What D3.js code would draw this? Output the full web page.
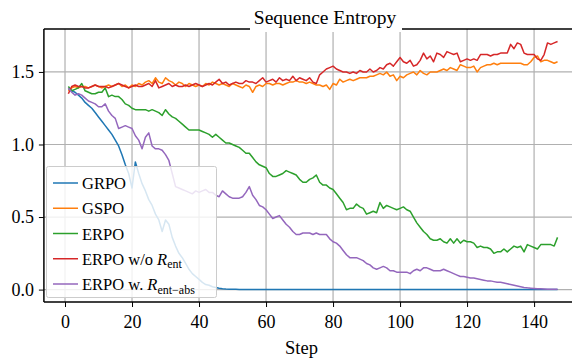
<!DOCTYPE html>
<html>
<head>
<meta charset="utf-8">
<script src="https://cdn.jsdelivr.net/npm/d3@7"></script>
<style>
  body { margin: 0; background: #fff; }
  svg { display: block; font-family: "Liberation Serif", "Times New Roman", serif; }
</style>
</head>
<body>
<svg id="chart" width="572" height="358"></svg>
<script>
// steps 1..147
const steps = d3.range(1, 148);

const grpo = [
  1.38, 1.37, 1.36, 1.34, 1.32, 1.29, 1.27, 1.25, 1.22, 1.19,
  1.16, 1.13, 1.10, 1.07, 1.03, 0.99, 0.93, 0.86, 0.80, 0.70,
  0.88, 0.80, 0.73, 0.68, 0.62, 0.58, 0.52, 0.48, 0.40, 0.48,
  0.45, 0.36, 0.30, 0.25, 0.22, 0.18, 0.14, 0.11, 0.09, 0.07,
  0.05, 0.035, 0.03, 0.02, 0.015, 0.01, 0.006, 0.004, 0.003, 0.002,
  0.002, 0.001, 0.001, 0.001, 0.001, 0.001, 0.001, 0.001, 0.001, 0.001,
  0, 0, 0, 0, 0, 0, 0, 0, 0, 0,
  0, 0, 0, 0, 0, 0, 0, 0, 0, 0,
  0, 0, 0, 0, 0, 0, 0, 0, 0, 0,
  0, 0, 0, 0, 0, 0, 0, 0, 0, 0,
  0, 0, 0, 0, 0, 0, 0, 0, 0, 0,
  0, 0, 0, 0, 0, 0, 0, 0, 0, 0,
  0, 0, 0, 0, 0, 0, 0, 0, 0, 0,
  0, 0, 0, 0, 0, 0, 0, 0, 0, 0,
  0, 0, 0, 0, 0, 0, 0
];

const gspo = [
  1.37, 1.39, 1.40, 1.39, 1.40, 1.40, 1.39, 1.40, 1.41, 1.40,
  1.39, 1.40, 1.41, 1.40, 1.41, 1.42, 1.40, 1.41, 1.39, 1.41,
  1.40, 1.42, 1.41, 1.43, 1.44, 1.42, 1.46, 1.43, 1.42, 1.46,
  1.44, 1.43, 1.41, 1.43, 1.42, 1.40, 1.42, 1.41, 1.40, 1.41,
  1.40, 1.42, 1.41, 1.43, 1.42, 1.41, 1.42, 1.41, 1.40, 1.42,
  1.41, 1.40, 1.39, 1.41, 1.40, 1.36, 1.40, 1.41, 1.40, 1.42,
  1.42, 1.41, 1.42, 1.42, 1.41, 1.42, 1.43, 1.43, 1.44, 1.43,
  1.43, 1.42, 1.43, 1.42, 1.41, 1.41, 1.40, 1.41, 1.38, 1.42,
  1.41, 1.45, 1.43, 1.44, 1.45, 1.44, 1.45, 1.46, 1.46, 1.46,
  1.47, 1.47, 1.48, 1.49, 1.48, 1.50, 1.47, 1.48, 1.44, 1.47,
  1.46, 1.48, 1.49, 1.50, 1.48, 1.51, 1.49, 1.48, 1.50, 1.50,
  1.50, 1.51, 1.52, 1.51, 1.53, 1.52, 1.51, 1.55, 1.54, 1.53,
  1.53, 1.54, 1.50, 1.53, 1.54, 1.55, 1.55, 1.56, 1.55, 1.56,
  1.56, 1.56, 1.56, 1.56, 1.56, 1.56, 1.55, 1.55, 1.57, 1.60,
  1.61, 1.57, 1.58, 1.58, 1.57, 1.56, 1.57
];

const erpo = [
  1.40, 1.37, 1.38, 1.39, 1.42, 1.37, 1.36, 1.35, 1.35, 1.36,
  1.36, 1.39, 1.33, 1.34, 1.33, 1.33, 1.31, 1.28, 1.27, 1.25,
  1.24, 1.24, 1.24, 1.24, 1.23, 1.24, 1.23, 1.22, 1.20, 1.24,
  1.21, 1.19, 1.18, 1.16, 1.14, 1.12, 1.10, 1.10, 1.10, 1.10,
  1.09, 1.08, 1.07, 1.05, 1.07, 1.05, 1.03, 1.01, 1.01, 1.00,
  0.99, 0.98, 0.96, 0.94, 0.94, 0.91, 0.88, 0.86, 0.85, 0.84,
  0.80, 0.78, 0.78, 0.79, 0.80, 0.82, 0.81, 0.80, 0.79, 0.76,
  0.74, 0.74, 0.76, 0.77, 0.79, 0.74, 0.72, 0.72, 0.70, 0.69,
  0.66, 0.63, 0.60, 0.55, 0.56, 0.56, 0.59, 0.57, 0.56, 0.52,
  0.53, 0.54, 0.53, 0.60, 0.56, 0.58, 0.57, 0.56, 0.55, 0.56,
  0.57, 0.55, 0.54, 0.50, 0.46, 0.43, 0.40, 0.38, 0.35, 0.34,
  0.34, 0.35, 0.33, 0.32, 0.35, 0.32, 0.35, 0.32, 0.34, 0.33,
  0.33, 0.32, 0.29, 0.30, 0.29, 0.29, 0.28, 0.25, 0.26, 0.26,
  0.28, 0.26, 0.28, 0.30, 0.29, 0.30, 0.26, 0.31, 0.30, 0.29,
  0.28, 0.31, 0.31, 0.31, 0.31, 0.30, 0.36
];

const erpoNoEnt = [
  1.35, 1.40, 1.41, 1.40, 1.40, 1.39, 1.39, 1.40, 1.41, 1.40,
  1.40, 1.40, 1.39, 1.40, 1.41, 1.42, 1.41, 1.40, 1.39, 1.40,
  1.41, 1.40, 1.40, 1.41, 1.42, 1.40, 1.44, 1.39, 1.40, 1.41,
  1.42, 1.40, 1.41, 1.40, 1.40, 1.41, 1.40, 1.41, 1.42, 1.41,
  1.40, 1.41, 1.42, 1.41, 1.43, 1.45, 1.42, 1.43, 1.41, 1.42,
  1.43, 1.42, 1.42, 1.44, 1.43, 1.43, 1.42, 1.44, 1.46, 1.43,
  1.44, 1.45, 1.43, 1.46, 1.44, 1.45, 1.44, 1.47, 1.44, 1.46,
  1.45, 1.44, 1.46, 1.43, 1.42, 1.48, 1.50, 1.52, 1.53, 1.54,
  1.52, 1.51, 1.50, 1.50, 1.49, 1.50, 1.49, 1.51, 1.50, 1.50,
  1.52, 1.50, 1.51, 1.53, 1.52, 1.55, 1.56, 1.54, 1.57, 1.60,
  1.57, 1.56, 1.58, 1.54, 1.55, 1.58, 1.63, 1.59, 1.61, 1.57,
  1.63, 1.62, 1.60, 1.64, 1.63, 1.62, 1.63, 1.57, 1.58, 1.59,
  1.58, 1.59, 1.58, 1.62, 1.62, 1.62, 1.61, 1.62, 1.62, 1.63,
  1.63, 1.63, 1.69, 1.66, 1.70, 1.69, 1.63, 1.62, 1.62, 1.62,
  1.59, 1.58, 1.62, 1.70, 1.69, 1.70, 1.71
];

const erpoEntAbs = [
  1.39, 1.36, 1.34, 1.35, 1.34, 1.32, 1.30, 1.29, 1.28, 1.26,
  1.26, 1.28, 1.23, 1.20, 1.18, 1.11, 1.12, 1.13, 1.12, 1.11,
  1.06, 1.03, 0.97, 1.05, 1.08, 0.99, 0.97, 0.97, 0.96, 0.93,
  0.89, 0.80, 0.71, 0.70, 0.69, 0.68, 0.67, 0.66, 0.68, 0.67,
  0.68, 0.69, 0.67, 0.67, 0.65, 0.64, 0.68, 0.66, 0.64, 0.63,
  0.63, 0.63, 0.64, 0.67, 0.71, 0.65, 0.62, 0.58, 0.57, 0.55,
  0.52, 0.49, 0.50, 0.51, 0.48, 0.45, 0.43, 0.40, 0.38, 0.38,
  0.39, 0.39, 0.39, 0.38, 0.39, 0.38, 0.38, 0.38, 0.35, 0.33,
  0.32, 0.30, 0.27, 0.24, 0.22, 0.22, 0.22, 0.21, 0.20, 0.18,
  0.17, 0.15, 0.14, 0.15, 0.16, 0.15, 0.13, 0.13, 0.12, 0.12,
  0.12, 0.12, 0.11, 0.13, 0.14, 0.13, 0.15, 0.15, 0.14, 0.13,
  0.13, 0.13, 0.14, 0.13, 0.12, 0.11, 0.10, 0.09, 0.09, 0.085,
  0.08, 0.08, 0.075, 0.07, 0.065, 0.06, 0.06, 0.055, 0.05, 0.05,
  0.045, 0.04, 0.035, 0.03, 0.025, 0.02, 0.015, 0.012, 0.01, 0.008,
  0.006, 0.005, 0.004, 0.003, 0.003, 0.002, 0.002
];

const xTicks = [0, 20, 40, 60, 80, 100, 120, 140];
const yTicks = [0.0, 0.5, 1.0, 1.5];

const series = [
  { name: "GRPO", values: grpo, color: "#1f77b4" },
  { name: "GSPO", values: gspo, color: "#ff7f0e" },
  { name: "ERPO", values: erpo, color: "#2ca02c" },
  { name: "ERPO w/o", sub: "ent", values: erpoNoEnt, color: "#d62728" },
  { name: "ERPO w.", sub: "ent\u2212abs", values: erpoEntAbs, color: "#9467bd" }
];

const W = 572;
const plotL = 43.9, plotT = 29, plotR = 582, plotB = 302;

const svg = d3.select("#chart");

const x = d3.scaleLinear().domain([-6.3, 154.3]).range([plotL, plotR]);
const y = d3.scaleLinear().domain([-0.0855, 1.796]).range([plotB, plotT]);

// grid
svg.append("g").selectAll("line").data(xTicks).enter().append("line")
  .attr("x1", d => x(d)).attr("x2", d => x(d))
  .attr("y1", plotT).attr("y2", plotB)
  .attr("stroke", "#b0b0b0").attr("stroke-width", 1.2);
svg.append("g").selectAll("line").data(yTicks).enter().append("line")
  .attr("x1", plotL).attr("x2", W)
  .attr("y1", d => y(d)).attr("y2", d => y(d))
  .attr("stroke", "#b0b0b0").attr("stroke-width", 1.2);

// lines
const line = d3.line().x((d, i) => x(steps[i])).y(d => y(d));
svg.append("g").selectAll("path").data(series).enter().append("path")
  .attr("d", d => line(d.values))
  .attr("fill", "none")
  .attr("stroke", d => d.color)
  .attr("stroke-width", 1.5)
  .attr("stroke-linejoin", "round");

// axes
const xAxis = svg.append("g").attr("transform", `translate(0,${plotB})`)
  .call(d3.axisBottom(x).tickValues(xTicks).tickFormat(d3.format("d")).tickSize(5).tickPadding(5));
const yAxis = svg.append("g").attr("transform", `translate(${plotL},0)`)
  .call(d3.axisLeft(y).tickValues(yTicks).tickFormat(d3.format(".1f")).tickSize(5).tickPadding(5));
[xAxis, yAxis].forEach(g => {
  g.select(".domain").remove();
  g.selectAll(".tick line").attr("stroke", "#000").attr("stroke-width", 1);
  g.selectAll(".tick text").attr("font-family", "Liberation Serif").attr("font-size", 18).attr("fill", "#000");
});
xAxis.selectAll(".tick text").attr("dy", "0.9em");

// spines
svg.append("line").attr("x1", plotL).attr("x2", plotL).attr("y1", plotT).attr("y2", plotB)
  .attr("stroke", "#000").attr("stroke-width", 1.5);
svg.append("line").attr("x1", plotL).attr("x2", W).attr("y1", plotB).attr("y2", plotB)
  .attr("stroke", "#000").attr("stroke-width", 1.5);
svg.append("line").attr("x1", plotL).attr("x2", W).attr("y1", plotT).attr("y2", plotT)
  .attr("stroke", "#000").attr("stroke-width", 1.5);

// title with white box
svg.append("rect").attr("x", 250).attr("y", 3).attr("width", 152).attr("height", 29).attr("fill", "#fff");
svg.append("text").attr("x", 325).attr("y", 24).attr("text-anchor", "middle")
  .attr("font-size", 19.5).text("Sequence Entropy");

// x label
svg.append("text").attr("x", 301.5).attr("y", 354).attr("text-anchor", "middle")
  .attr("font-size", 18.5).text("Step");

// legend
const leg = svg.append("g");
leg.append("rect").attr("x", 46.5).attr("y", 166.5).attr("width", 170).attr("height", 131)
  .attr("rx", 2).attr("fill", "#fff").attr("fill-opacity", 0.82)
  .attr("stroke", "#cccccc").attr("stroke-width", 1);
const rowY = d3.scalePoint().domain(series.map(d => d.name)).range([183, 284]);
const items = leg.selectAll("g.item").data(series).enter().append("g").attr("class", "item")
  .attr("transform", d => `translate(0,${rowY(d.name)})`);
items.append("line").attr("x1", 53).attr("x2", 78).attr("y1", 0).attr("y2", 0)
  .attr("stroke", d => d.color).attr("stroke-width", 1.5);
const lt = items.append("text").attr("x", 82).attr("y", 6).attr("font-size", 16.5);
lt.append("tspan").text(d => d.name);
lt.filter(d => d.sub).append("tspan").attr("dx", 4).attr("font-style", "italic").text("R");
lt.filter(d => d.sub).append("tspan").attr("font-size", 12).attr("dy", 3.5).text(d => d.sub);
</script>
</body>
</html>
